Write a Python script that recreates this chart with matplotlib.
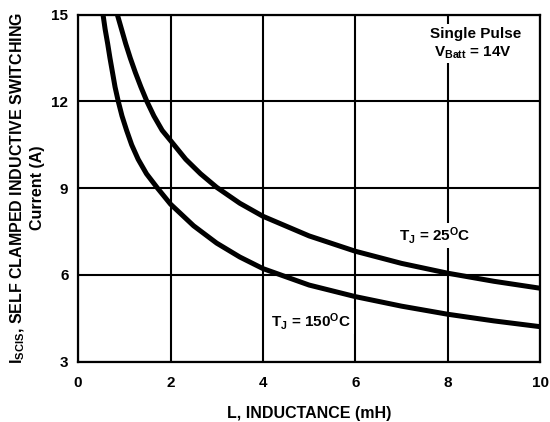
import matplotlib
matplotlib.use("Agg")
import matplotlib.pyplot as plt

plt.rcParams['font.family'] = ['Liberation Sans', 'DejaVu Sans']
plt.rcParams['font.weight'] = 'bold'
plt.rcParams['mathtext.fontset'] = 'custom'
plt.rcParams['mathtext.rm'] = 'Liberation Sans:bold'
plt.rcParams['mathtext.it'] = 'Liberation Sans:bold'
plt.rcParams['mathtext.bf'] = 'Liberation Sans:bold'
plt.rcParams['mathtext.sf'] = 'Liberation Sans:bold'

# values
L_25 = [0.85, 0.94, 1.03, 1.13, 1.24, 1.36, 1.49, 1.64, 1.82, 2.0, 2.33, 2.65,
        3.0, 3.5, 4.0, 5.0, 6.0, 7.0, 8.0, 9.0, 10.0]
I_25 = [15.0, 14.5, 14.0, 13.5, 13.0, 12.5, 12.0, 11.5, 11.0, 10.65, 10.0, 9.5,
        9.03, 8.48, 8.03, 7.35, 6.82, 6.40, 6.06, 5.78, 5.54]

L_150 = [0.54, 0.585, 0.64, 0.69, 0.745, 0.80, 0.87, 0.95, 1.05, 1.16, 1.30, 1.48,
         1.72, 2.0, 2.5, 3.0, 3.5, 4.0, 5.0, 6.0, 7.0, 8.0, 9.0, 10.0]
I_150 = [15.0, 14.5, 14.0, 13.5, 13.0, 12.5, 12.0, 11.5, 11.0, 10.5, 10.0, 9.5,
         9.0, 8.45, 7.7, 7.1, 6.62, 6.22, 5.65, 5.25, 4.92, 4.64, 4.41, 4.21]

x_ticks = [0, 2, 4, 6, 8, 10]
y_ticks = [3, 6, 9, 12, 15]

fig = plt.figure(figsize=(5.5, 4.22), dpi=100)
ax = fig.add_axes([0.142, 0.143, 0.840, 0.822])

ax.plot(L_25, I_25, color='black', linewidth=3.6, solid_capstyle='butt', zorder=3)
ax.plot(L_150, I_150, color='black', linewidth=3.6, solid_capstyle='butt', zorder=3)

ax.set_xlim(0, 10)
ax.set_ylim(3, 15)
ax.set_xticks(x_ticks)
ax.set_yticks(y_ticks)
ax.grid(True, color='black', linewidth=1.5)
ax.set_axisbelow(True)
for s in ax.spines.values():
    s.set_linewidth(1.6)
ax.tick_params(length=0, labelsize=11)
ax.tick_params(axis='x', pad=10)
ax.tick_params(axis='y', pad=7)

ax.set_xlabel("L, INDUCTANCE (mH)", fontsize=11.5, fontweight='bold', labelpad=12)
ax.set_ylabel("I$_{SCIS}$, SELF CLAMPED INDUCTIVE SWITCHING\nCurrent (A)",
              fontsize=11.5, fontweight='bold', linespacing=1.25)
ax.yaxis.set_label_coords(-0.072, 0.5)

box = dict(facecolor='white', edgecolor='none', pad=1.5)
ax.text(7.72, 7.37, "T$_J$ = 25$^O$C", fontsize=11, ha='center', va='center',
        bbox=box, zorder=4)
ax.text(5.05, 4.38, "T$_J$ = 150$^O$C", fontsize=11, ha='center', va='center',
        bbox=box, zorder=4)
ax.text(8.6, 14.35, "Single Pulse", fontsize=11, ha='center', va='center',
        bbox=box, zorder=4)
ax.text(8.55, 13.68, "V$_{Batt}$ = 14V", fontsize=11, ha='center', va='center',
        bbox=box, zorder=4)

fig.savefig("out.png", dpi=100)
